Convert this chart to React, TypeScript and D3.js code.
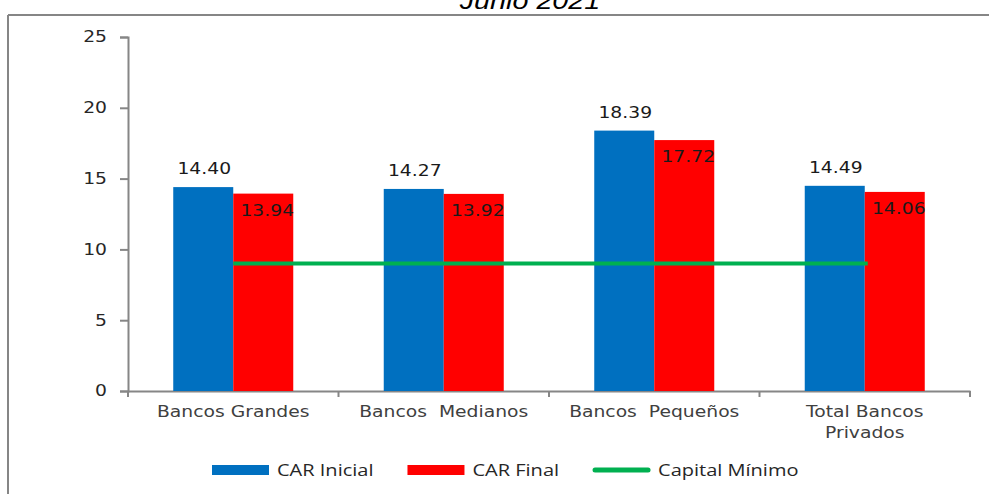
import { axisBottom, axisLeft, scaleBand, scaleLinear, select } from 'd3'
import { useEffect, useRef } from 'react'

const categories = ['Bancos Grandes', 'Bancos  Medianos', 'Bancos  Pequeños', 'Total Bancos|Privados']
const carInicial = [14.4, 14.27, 18.39, 14.49]
const carFinal = [13.94, 13.92, 17.72, 14.06]
const capitalMinimo = 9
const yTicks = [0, 5, 10, 15, 20, 25]
const seriesNames = ['CAR Inicial', 'CAR Final']
const legendNames = ['CAR Inicial', 'CAR Final', 'Capital Mínimo']

const W = 989
const H = 494
const STRETCH = 1.25
const BLUE = '#0070C0'
const RED = '#FF0000'
const GREEN = '#00B050'
const GRID = '#868686'

export default function App() {
  const ref = useRef<SVGSVGElement>(null)

  useEffect(() => {
    if (!ref.current) return
    const svg = select(ref.current)
    svg.selectAll('*').remove()

    const margin = { top: 37, right: 19, bottom: 103, left: 128 }
    const width = W - margin.left - margin.right
    const height = H - margin.top - margin.bottom

    // frame of the chart area (only left and top edges visible)
    svg.append('line').attr('x1', 8).attr('x2', 8).attr('y1', 15).attr('y2', H).attr('stroke', GRID).attr('stroke-width', 2)
    svg.append('line').attr('x1', 8).attr('x2', W).attr('y1', 15).attr('y2', 15).attr('stroke', GRID).attr('stroke-width', 2)

    // title, cut off at the top like in the source
    svg
      .append('text')
      .attr('transform', `translate(530, 9) scale(${STRETCH},1)`)
      .attr('text-anchor', 'middle')
      .style('font-family', '"Liberation Sans", Arial, sans-serif')
      .style('font-style', 'italic')
      .style('font-size', '23px')
      .attr('fill', '#000')
      .text('Junio 2021')

    const g = svg.append('g').attr('transform', `translate(${margin.left}, ${margin.top})`)

    const x0 = scaleBand().domain(categories).range([0, width]).padding(0)
    const x1 = scaleBand().domain(seriesNames).range([0, x0.bandwidth()]).paddingInner(0).paddingOuter(0.754)
    const y = scaleLinear().domain([0, 25]).range([height, 0])

    // y axis
    const yAxis = g
      .append('g')
      .call(axisLeft(y).tickValues(yTicks).tickSize(8).tickFormat((d) => String(d)))
    yAxis.select('.domain').attr('stroke', GRID).attr('stroke-width', 2)
    yAxis.selectAll('.tick line').attr('stroke', GRID).attr('stroke-width', 2)
    yAxis
      .selectAll('.tick text')
      .attr('x', -21 / STRETCH)
      .attr('transform', `scale(${STRETCH},1)`)
      .style('font-family', '"DejaVu Sans", Verdana, sans-serif')
      .style('font-size', '15px')
      .attr('fill', '#262626')

    // x axis
    const xAxis = g
      .append('g')
      .attr('transform', `translate(0, ${height})`)
      .call(axisBottom(x0).tickSize(0).tickFormat(() => ''))
    xAxis.select('.domain').attr('stroke', GRID).attr('stroke-width', 2)
    xAxis.selectAll('.tick').remove()
    const bounds = [...categories.map((c) => x0(c) ?? 0), width]
    g.selectAll('.xtick')
      .data(bounds)
      .join('line')
      .attr('x1', (d) => d)
      .attr('x2', (d) => d)
      .attr('y1', height)
      .attr('y2', height + 6)
      .attr('stroke', GRID)
      .attr('stroke-width', 2)

    // category labels
    const catLabels = g
      .selectAll('.cat')
      .data(categories)
      .join('text')
      .attr('transform', (d) => `translate(${(x0(d) ?? 0) + x0.bandwidth() / 2}, ${height + 26}) scale(${STRETCH},1)`)
      .attr('text-anchor', 'middle')
      .style('font-family', '"DejaVu Sans", Verdana, sans-serif')
      .style('font-size', '15px')
      .attr('fill', '#404040')
    catLabels
      .selectAll('tspan')
      .data((d) => d.split('|'))
      .join('tspan')
      .attr('x', 0)
      .attr('dy', (_, i) => (i === 0 ? 0 : 21))
      .style('white-space', 'pre')
      .text((d) => d)

    const rows = categories.map((c, i) => ({ c, vals: [carInicial[i], carFinal[i]] }))

    // bars
    const groups = g
      .selectAll('.grp')
      .data(rows)
      .join('g')
      .attr('transform', (d) => `translate(${x0(d.c) ?? 0}, 0)`)
    groups
      .selectAll('rect')
      .data((d) => d.vals.map((v, i) => ({ s: seriesNames[i], v })))
      .join('rect')
      .attr('x', (d) => x1(d.s) ?? 0)
      .attr('y', (d) => y(d.v))
      .attr('width', x1.bandwidth())
      .attr('height', (d) => height - y(d.v))
      .attr('fill', (d) => (d.s === seriesNames[0] ? BLUE : RED))

    // value labels: blue above the bar, red inside near the top
    groups
      .selectAll('.lbl')
      .data((d) => d.vals.map((v, i) => ({ s: seriesNames[i], v, i })))
      .join('text')
      .attr(
        'transform',
        (d) =>
          `translate(${(x1(d.s) ?? 0) + x1.bandwidth() / 2 + (d.i === 0 ? 1 : 4)}, ${
            d.i === 0 ? y(d.v) - 13 : y(d.v) + 22
          }) scale(${STRETCH},1)`,
      )
      .attr('text-anchor', 'middle')
      .style('font-family', '"DejaVu Sans", Verdana, sans-serif')
      .style('font-size', '15px')
      .attr('fill', '#1a1a1a')
      .text((d) => d.v.toFixed(2))

    // capital minimo line
    const firstC = (x0(categories[0]) ?? 0) + x0.bandwidth() / 2
    const lastC = (x0(categories[categories.length - 1]) ?? 0) + x0.bandwidth() / 2
    g.append('line')
      .attr('x1', firstC)
      .attr('x2', lastC + 3)
      .attr('y1', y(capitalMinimo))
      .attr('y2', y(capitalMinimo))
      .attr('stroke', GREEN)
      .attr('stroke-width', 4)

    // legend
    const legend = svg.append('g').attr('transform', 'translate(212, 470)')
    let cx = 0
    legendNames.forEach((name, i) => {
      const item = legend.append('g').attr('transform', `translate(${cx}, 0)`)
      if (i < 2) {
        item
          .append('rect')
          .attr('x', 0)
          .attr('y', -5)
          .attr('width', 57)
          .attr('height', 10)
          .attr('fill', i === 0 ? BLUE : RED)
      } else {
        item
          .append('line')
          .attr('x1', 2)
          .attr('x2', 55)
          .attr('y1', 0)
          .attr('y2', 0)
          .attr('stroke', GREEN)
          .attr('stroke-width', 5)
          .attr('stroke-linecap', 'round')
      }
      const t = item
        .append('text')
        .attr('transform', `translate(65, 6) scale(${STRETCH},1)`)
        .style('font-family', '"Open Sans", sans-serif')
        .style('font-size', '16px')
        .attr('fill', '#262626')
        .text(name)
      const tw = ((t.node() as SVGTextElement).getComputedTextLength() || 80) * STRETCH
      cx += 65 + tw + 34
    })
  }, [])

  return (
    <svg
      ref={ref}
      width={W}
      height={H}
      style={{ position: 'absolute', left: 0, top: 0, background: '#fff', display: 'block' }}
    />
  )
}
